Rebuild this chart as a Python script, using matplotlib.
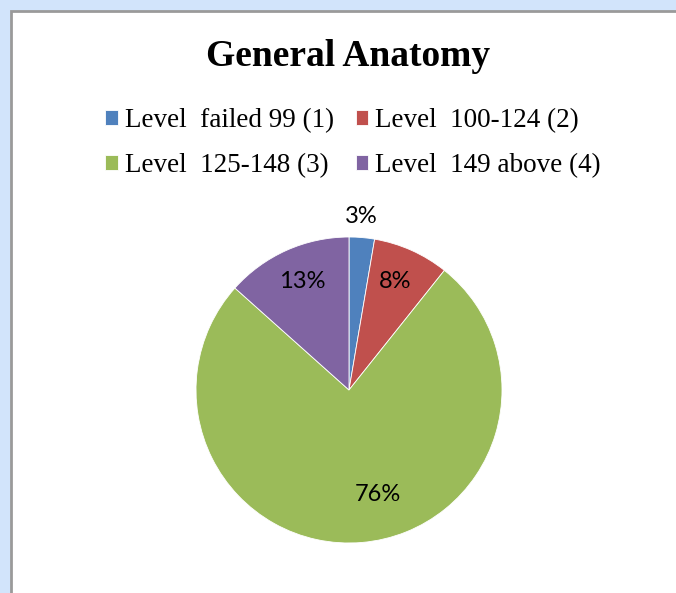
import matplotlib.pyplot as plt
from matplotlib.patches import Rectangle

# counts (percent labels are rounded)
labels = ['Level  failed 99 (1)', 'Level  100-124 (2)',
          'Level  125-148 (3)', 'Level  149 above (4)']
counts = [3, 9, 85, 15]
colors = ['#4F81BD', '#C0504D', '#9BBB59', '#8064A2']
# label centres in pie-radius units (Excel "best fit" placement)
label_xy = [(0.078, 1.137), (0.30, 0.71), (0.19, -0.68), (-0.307, 0.71)]

W, H = 676, 593
fig = plt.figure(figsize=(W / 100, H / 100), dpi=100)
fig.patch.set_facecolor('#d2e4fb')

# white chart area with grey frame
fig.patches.append(Rectangle((10.5 / W, -0.1), 1.2, 1 - 11.5 / H + 0.1,
                             transform=fig.transFigure, facecolor='white',
                             edgecolor='#9a9a9a', linewidth=2, zorder=-1))

# pie: centre (349, 390) px, radius 153 px
r = 153
ax = fig.add_axes([(349 - r) / W, (H - 390 - r) / H, 2 * r / W, 2 * r / H])
ax.set_zorder(1)
wedges, _ = ax.pie(counts, colors=colors, startangle=90, counterclock=False,
                   radius=1, wedgeprops=dict(edgecolor='white', linewidth=0.6))
ax.set_xlim(-1, 1)
ax.set_ylim(-1, 1)
ax.set_aspect('equal')
ax.axis('off')

total = sum(counts)
for c, (x, y) in zip(counts, label_xy):
    ax.text(x, y, '%d%%' % round(100 * c / total), ha='center', va='center',
            fontsize=17, family='Lato', color='black')

fig.text(348 / W, 1 - 57 / H, 'General Anatomy', ha='center', va='center',
         fontsize=27, fontweight='bold', family='Liberation Serif')

# legend filled row by row like Excel
order = [0, 2, 1, 3]
leg = fig.legend([wedges[i] for i in order], [labels[i] for i in order],
                 ncol=2, loc='center', bbox_to_anchor=(353 / W, 1 - 143 / H),
                 prop=dict(family='Liberation Serif', size=19.5),
                 frameon=False, handlelength=0.47, handleheight=0.47,
                 handletextpad=0.26, columnspacing=0.8, labelspacing=0.72,
                 borderpad=0, borderaxespad=0)
leg.set_zorder(2)

fig.savefig('out.png', dpi=100, facecolor=fig.get_facecolor())
